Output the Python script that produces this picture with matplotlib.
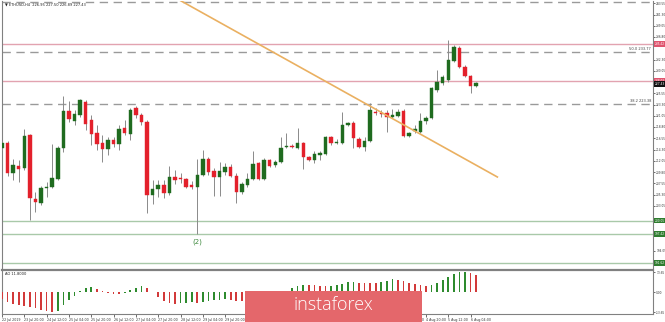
import matplotlib
matplotlib.use("Agg")
import matplotlib.pyplot as plt
from matplotlib.patches import Rectangle
import numpy as np

# H4 candles
opens = [214.6, 215.6, 209.6, 211.0, 210.6, 217.2, 204.4, 203.6, 206.6, 206.8,
         208.4, 214.6, 222.0, 220.0, 221.2, 223.8, 220.2, 217.6, 215.6, 214.4,
         216.2, 215.4, 218.6, 217.4, 222.6, 221.2, 219.8, 205.2, 206.4, 207.2,
         205.6, 208.8, 208.6, 208.4, 207.2, 206.8, 209.2, 212.4, 210.0, 208.8,
         209.8, 210.8, 209.0, 205.8, 207.2, 208.4, 211.6, 208.4, 212.2, 211.2,
         211.8, 214.8, 215.0, 214.6, 215.6, 212.8, 212.2, 213.2, 213.4, 216.8,
         215.6, 215.6, 219.2, 219.6, 216.4, 214.8, 216.0, 221.8, 221.6, 221.6,
         220.8, 221.0, 222.0, 217.0, 218.0, 217.8, 220.0, 220.6, 226.2, 227.6,
         228.2, 232.0, 234.6, 230.8, 229.0, 227.0]
highs = [216.0, 216.0, 212.4, 212.2, 218.4, 217.4, 205.8, 207.0, 207.8, 215.4,
         215.0, 225.0, 224.0, 222.2, 224.4, 224.2, 221.2, 219.2, 217.2, 216.8,
         216.8, 219.2, 220.2, 222.6, 223.0, 221.6, 220.2, 208.2, 208.2, 208.2,
         211.0, 210.2, 209.6, 208.6, 208.0, 212.4, 214.2, 212.8, 210.6, 211.8,
         211.6, 211.4, 209.6, 207.8, 209.6, 214.0, 211.8, 212.6, 212.4, 212.2,
         216.8, 217.6, 215.4, 218.6, 215.8, 213.0, 214.0, 214.0, 217.0, 217.0,
         216.4, 221.8, 219.8, 220.0, 216.8, 216.8, 223.6, 222.6, 222.2, 222.2,
         222.4, 222.4, 222.4, 217.8, 219.2, 221.6, 221.0, 226.8, 230.2, 229.2,
         236.2, 235.2, 235.0, 231.2, 229.2, 227.8]
lows = [214.2, 209.0, 208.2, 207.8, 210.2, 200.2, 201.8, 203.2, 204.8, 206.6,
        208.2, 213.8, 219.8, 219.2, 220.8, 218.2, 215.2, 214.2, 211.8, 213.2,
        214.8, 214.2, 217.2, 216.2, 220.6, 219.2, 201.6, 203.4, 204.8, 204.6,
        205.2, 207.4, 207.6, 206.6, 206.4, 197.4, 209.0, 209.2, 205.0, 205.0,
        209.2, 208.8, 203.6, 205.4, 206.8, 208.2, 208.2, 208.2, 210.8, 210.8,
        211.6, 214.6, 214.6, 214.4, 210.4, 212.0, 211.6, 212.2, 213.2, 215.2,
        215.5, 215.4, 219.0, 214.6, 214.6, 214.0, 215.8, 221.2, 220.8, 217.8,
        220.6, 220.8, 216.8, 216.8, 217.6, 217.6, 219.4, 220.4, 225.8, 227.2,
        227.8, 231.8, 230.6, 228.8, 225.6, 226.8]
closes = [215.6, 209.6, 211.2, 210.4, 217.0, 204.6, 203.8, 206.6, 206.8, 208.6,
          214.6, 222.0, 220.4, 221.4, 224.2, 219.4, 217.4, 215.4, 214.4, 216.2,
          215.4, 218.4, 217.6, 222.2, 221.2, 219.8, 205.2, 206.4, 207.2, 205.6,
          208.8, 208.2, 208.4, 206.8, 206.8, 209.2, 212.4, 209.8, 208.8, 210.0,
          210.8, 209.0, 205.8, 207.4, 208.4, 211.4, 208.4, 212.2, 211.0, 211.8,
          214.6, 215.0, 214.8, 215.6, 212.8, 212.2, 213.4, 213.6, 216.8, 215.6,
          215.8, 219.2, 219.6, 216.6, 214.8, 216.0, 222.2, 221.6, 221.4, 220.8,
          221.2, 221.8, 217.0, 217.6, 218.4, 220.0, 220.6, 226.6, 227.8, 228.8,
          232.2, 234.8, 230.8, 229.0, 227.0, 227.43]

# Awesome Oscillator
ao_values = [-4.8, -6.5, -7.8, -8.4, -9.2, -9.8, -10.9, -12.0, -13.0, -13.6,
             -13.0, -8.6, -5.2, -2.3, 0.8, 3.2, 3.4, 2.2, 1.1, -0.4,
             -0.9, -1.3, -0.5, 1.6, 3.2, 4.3, 2.7, 0.3, -3.0, -6.0,
             -7.5, -8.0, -7.2, -7.0, -6.9, -7.1, -6.3, -5.8, -5.4, -5.1,
             -4.3, -5.2, -5.6, -5.8, -5.5, -4.5, -3.6, -2.5, -1.5, -0.4,
             0.6, 1.0, 2.7, 4.1, 5.2, 5.0, 4.8, 4.1, 4.0, 4.2,
             5.0, 5.6, 7.2, 7.3, 6.6, 6.5, 6.4, 6.3, 6.8, 7.9,
             8.8, 8.6, 7.5, 6.5, 5.6, 4.9, 4.3, 4.9, 6.5, 8.4,
             10.6, 12.4, 13.6, 14.0, 13.3, 11.8]

date_labels = ["22 Jul 2019", "23 Jul 20:00", "24 Jul 12:00", "25 Jul 04:00",
               "25 Jul 20:00", "26 Jul 12:00", "27 Jul 04:00", "27 Jul 20:00",
               "28 Jul 12:00", "29 Jul 04:00", "29 Jul 20:00", "30 Jul 12:00",
               "31 Jul 04:00", "31 Jul 20:00", "1 Aug 12:00", "2 Aug 04:00",
               "2 Aug 20:00", "3 Aug 12:00", "4 Aug 04:00", "4 Aug 20:00",
               "5 Aug 12:00", "6 Aug 04:00"]

# levels drawn on the chart
fib_levels = [243.9, 233.77, 223.38]
fib_names = ["61.8", "50.0", "38.2"]
red_levels = [235.42, 228.02]
green_levels = [200.05, 197.42, 191.62]
trend_x = [31.8, 88.8]
trend_y = [244.2, 208.8]
low_mark_bar = 35

GREEN = "#1f6b1f"
RED = "#e3202b"
WICK = "#8a8a8a"
FS = 2.6
FR = 2.1  # right price scale

fig = plt.figure(figsize=(6.65, 3.22), dpi=100)
ax = fig.add_axes([2/665, 1-268/322, 651/665, 267/322])
ax2 = fig.add_axes([2/665, 1-314/322, 651/665, 44/322])

n = len(opens)
x = np.arange(n)
o = np.array(opens); c = np.array(closes)
up = c >= o
ax.vlines(x, lows, highs, color=WICK, lw=0.7, zorder=3)
ax.bar(x, np.abs(c - o) + 0.15, bottom=np.minimum(o, c) - 0.075, width=0.62,
       color=np.where(up, GREEN, RED), edgecolor=np.where(up, GREEN, RED),
       lw=0.3, zorder=4)

for lv in fib_levels:
    ax.axhline(lv, color="#9a9a9a", lw=1.0, ls=(0, (6, 4)), zorder=1)
for name, lv in zip(fib_names[1:], fib_levels[1:]):
    ax.text(0.997, lv + 0.3, f"{name} {lv:.2f}", transform=ax.get_yaxis_transform(),
            ha="right", va="bottom", fontsize=FS, color="#444444")
for lv in red_levels:
    ax.axhline(lv, color="#e2a3b0", lw=1.0, zorder=1)
for lv in green_levels:
    ax.axhline(lv, color="#a9c9a9", lw=1.0, zorder=1)

ax.plot(trend_x, trend_y, color="#eab061", lw=1.2, zorder=5)
ax.text(low_mark_bar, lows[low_mark_bar] - 1.0, "(2)", ha="center", va="top",
        fontsize=5, color="#3f8a3f")

ax.set_xlim(0.0, 116.7)
ax.set_ylim(190.6, 244.0)
yt = np.arange(243.55, 190.0, -2.25)
boxes = red_levels + [closes[-1]] + green_levels
yt = [t for t in yt if min(abs(t - b) for b in boxes) > 1.3]
ax.yaxis.tick_right()
ax.set_yticks(yt)
ax.set_yticklabels([f"{t:.2f}" for t in yt])
ax.tick_params(axis="y", labelsize=FR, length=1.5, width=0.5, pad=0.8, colors="#333333")
ax.set_xticks([])
for s in ["top", "bottom"]:
    ax.spines[s].set_visible(False)
for s in ["left", "right"]:
    ax.spines[s].set_color("#808080")
    ax.spines[s].set_linewidth(0.8)

tr = ax.get_yaxis_transform()
for lv in red_levels:
    ax.text(1.002, lv, f"{lv:.2f}", transform=tr, fontsize=FR, color="white",
            va="center", ha="left",
            bbox=dict(facecolor="#e0546e", edgecolor="none", pad=0.5))
ax.text(1.002, closes[-1], f"{closes[-1]:.2f}", transform=tr, fontsize=FR,
        color="white", va="center", ha="left",
        bbox=dict(facecolor="#111111", edgecolor="none", pad=0.5))
for lv in green_levels:
    ax.text(1.002, lv, f"{lv:.2f}", transform=tr, fontsize=FR, color="white",
            va="center", ha="left",
            bbox=dict(facecolor="#2f7d2f", edgecolor="none", pad=0.5))

ax.text(0.004, 0.995, f"\u25bc ETHUSD,H4  226.95 227.50 226.89 {closes[-1]:.2f}",
        transform=ax.transAxes, fontsize=FS, va="top", ha="left", color="#222222")

# Awesome Oscillator panel
ao = np.array(ao_values)
ao_col = ["#d23a3a"] + [("#2e8b2e" if ao[i] > ao[i-1] else "#d23a3a") for i in range(1, n)]
ax2.bar(x, ao, width=0.3, color=ao_col, zorder=3)
ax2.set_xlim(0.0, 116.7)
ax2.set_ylim(-14.8, 15.2)
ax2.yaxis.tick_right()
ax2.set_yticks([13.65, 0, -13.65])
ax2.set_yticklabels(["13.65", "0.00", "-13.65"])
ax2.tick_params(axis="y", labelsize=FR, length=1.5, width=0.5, pad=0.8, colors="#333333")
ax2.set_xticks(range(0, 4 * len(date_labels), 4))
ax2.set_xticklabels(date_labels, ha="left")
ax2.tick_params(axis="x", labelsize=2.3, length=2, width=0.5, pad=1.0, colors="#333333")
ax2.text(0.004, 0.96, f"AO {ao[-1]:.4f}", transform=ax2.transAxes, fontsize=FS,
         va="top", ha="left", color="#222222")
for s in ax2.spines.values():
    s.set_color("#808080")
    s.set_linewidth(0.8)
ax2.spines["top"].set_linewidth(1.6)

# watermark
fig.add_artist(Rectangle((245/665, 0), 177/665, 31/322, transform=fig.transFigure,
                         facecolor="#e4676b", edgecolor="none", zorder=10))
fig.text(333/665, 1-305/322, "instaforex", ha="center", va="center", fontsize=13,
         color="white", family="Open Sans", fontweight="light", zorder=11)

fig.savefig("out.png", dpi=100, facecolor="white")
